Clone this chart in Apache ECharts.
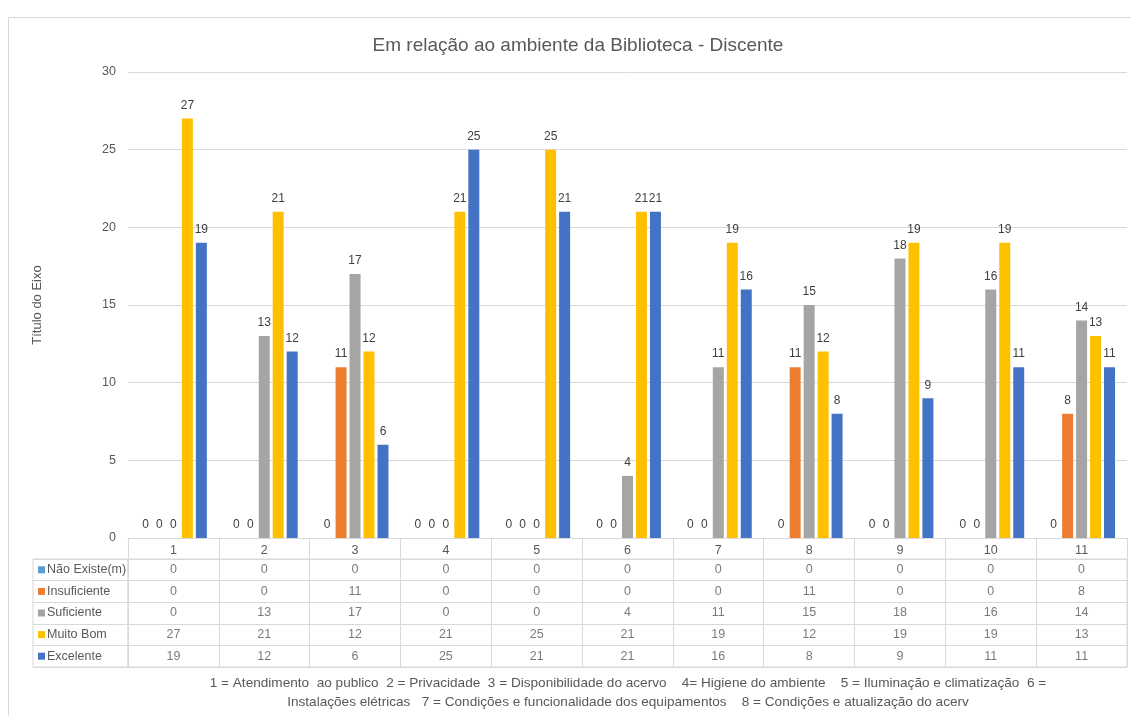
<!DOCTYPE html>
<html>
<head>
<meta charset="utf-8">
<script src="https://cdn.jsdelivr.net/npm/echarts@6/dist/echarts.min.js"></script>
<style>
html,body{margin:0;padding:0;background:#fff;}
#chart{width:1131px;height:716px;}
</style>
</head>
<body>
<div id="chart"></div>
<script>
const categories = ['1','2','3','4','5','6','7','8','9','10','11'];
const seriesNames = ['Não Existe(m)','Insuficiente','Suficiente','Muito Bom','Excelente'];
const naoExiste   = [0,0,0,0,0,0,0,0,0,0,0];
const insuficiente= [0,0,11,0,0,0,0,11,0,0,8];
const suficiente  = [0,13,17,0,0,4,11,15,18,16,14];
const muitoBom    = [27,21,12,21,25,21,19,12,19,19,13];
const excelente   = [19,12,6,25,21,21,16,8,9,11,11];
const colors = ['#5B9BD5','#ED7D31','#A5A5A5','#FFC000','#4472C4'];
const yTicks = { min: 0, max: 30, interval: 5 };
const titleText = 'Em relação ao ambiente da Biblioteca - Discente';
const yAxisTitle = 'Título do Eixo';
const footnote = '1 = Atendimento  ao publico  2 = Privacidade  3 = Disponibilidade do acervo    4= Higiene do ambiente    5 = Iluminação e climatização  6 =\nInstalações elétricas   7 = Condições e funcionalidade dos equipamentos    8 = Condições e atualização do acerv';

const values = [naoExiste, insuficiente, suficiente, muitoBom, excelente];
const FONT = 'Liberation Sans, Arial, sans-serif';
const GRID = '#d9d9d9';
const TXT = '#595959';

const rich = {};
colors.forEach((c, i) => { rich['s' + i] = { width: 7, height: 7, backgroundColor: c }; });
rich.t = { color: TXT, fontSize: 12.5, fontFamily: FONT, padding: [0, 0, 0, 2] };

const barSeries = seriesNames.map((name, i) => ({
  name: name,
  type: 'bar',
  xAxisIndex: 0, yAxisIndex: 0,
  data: values[i],
  barWidth: 11,
  barGap: '27%',
  itemStyle: { color: colors[i] },
  label: { show: true, position: 'top', distance: 7, color: '#404040', fontSize: 12, fontFamily: FONT },
  emphasis: { disabled: true }
}));

const tableData = [];
values.forEach((arr, r) => arr.forEach((v, c) => tableData.push([c, r, v])));

const option = {
  animation: false,
  backgroundColor: '#fff',
  textStyle: { fontFamily: FONT },
  title: [
    { text: titleText, left: 573, top: 31, textAlign: 'center', textStyle: { color: TXT, fontSize: 19, fontWeight: 'normal', fontFamily: FONT } },
    { text: footnote, left: 623, top: 669, textAlign: 'center',
      textStyle: { color: TXT, fontSize: 13.6, fontWeight: 'normal', fontFamily: FONT, lineHeight: 19, align: 'center' } }
  ],
  graphic: [
    { type: 'rect', shape: { x: 8.5, y: 17.5, width: 1140, height: 720 }, style: { fill: 'none', stroke: GRID, lineWidth: 1 }, silent: true, z: -10 }
  ],
  grid: [
    { left: 128, top: 72, width: 999, height: 466 },
    { left: 128, top: 559, width: 999, height: 108, show: true, borderColor: GRID, borderWidth: 1 },
    { left: 33, top: 559, width: 95, height: 108, show: true, borderColor: GRID, borderWidth: 1 }
  ],
  xAxis: [
    { type: 'category', gridIndex: 0, data: categories,
      axisLine: { show: true, lineStyle: { color: GRID } },
      axisTick: { show: true, interval: 0, length: 21, lineStyle: { color: GRID } },
      axisLabel: { color: TXT, fontSize: 12.5, margin: 6, interval: 0 } },
    { type: 'category', gridIndex: 1, data: categories,
      axisLine: { show: false }, axisTick: { show: false }, axisLabel: { show: false },
      splitLine: { show: true, interval: 0, lineStyle: { color: GRID } } },
    { type: 'value', gridIndex: 2, min: 0, max: 1, show: false }
  ],
  yAxis: [
    { type: 'value', gridIndex: 0, min: yTicks.min, max: yTicks.max, interval: yTicks.interval,
      name: yAxisTitle, nameLocation: 'middle', nameGap: 84, nameRotate: 90,
      nameTextStyle: { color: TXT, fontSize: 13, fontFamily: FONT },
      axisLine: { show: false }, axisTick: { show: false },
      axisLabel: { color: TXT, fontSize: 12.5, margin: 12 },
      splitLine: { lineStyle: { color: GRID } } },
    { type: 'category', gridIndex: 1, data: seriesNames, inverse: true,
      axisLine: { show: false }, axisTick: { show: false }, axisLabel: { show: false },
      splitLine: { show: true, interval: 0, lineStyle: { color: GRID } } },
    { type: 'category', gridIndex: 2, data: seriesNames, inverse: true,
      axisLine: { show: false }, axisTick: { show: false },
      axisLabel: { inside: true, margin: 5, interval: 0,
        formatter: (v, i) => '{s' + i + '|}{t|' + v + '}', rich: rich },
      splitLine: { show: true, interval: 0, lineStyle: { color: GRID } } }
  ],
  series: barSeries.concat([
    { type: 'scatter', xAxisIndex: 1, yAxisIndex: 1, data: tableData, symbolSize: 0,
      label: { show: true, position: 'inside', color: TXT, fontSize: 12.5, fontFamily: FONT,
        formatter: p => String(p.value[2]) }, emphasis: { disabled: true }, silent: true }
  ])
};

const chart = echarts.init(document.getElementById('chart'), null, { renderer: 'canvas' });
chart.setOption(option);
</script>
</body>
</html>
